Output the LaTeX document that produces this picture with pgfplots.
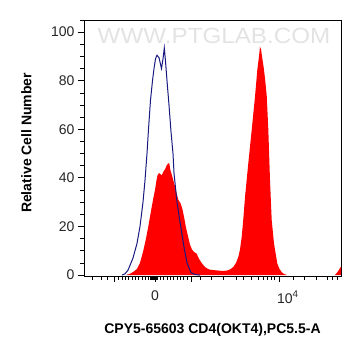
\documentclass[border=0pt]{standalone}
\usepackage{pgfplots}
\pgfplotsset{compat=1.18}
\usepackage{fontspec}
\setmainfont{Liberation Sans}
\definecolor{navyline}{RGB}{25,25,130}
\definecolor{histred}{RGB}{255,0,0}
\begin{document}
\begin{tikzpicture}
\useasboundingbox (-84pt,-80pt) rectangle (277pt,276pt);
\begin{axis}[
  scale only axis, width=257pt, height=256pt,
  xmin=84, xmax=341, ymin=-0.4, ymax=105,
  axis line style={line width=0.9pt},
  tick align=outside, xtick pos=bottom, ytick pos=left,
  ytick={0,20,40,60,80,100},
  minor ytick={5,10,15,25,30,35,45,50,55,65,70,75,85,90,95,105},
  xtick={115,155,191,279},
  xticklabels={,0,,\makebox[0pt][l]{\hspace{-2pt}10\textsuperscript{\raisebox{1pt}{4}}}},
  minor xtick={92,101,107,118,122,125,128,132,135,138,142,145,148,150,151,152,153,154,156,157,160,163,167,170,173,177,180,183,187,200,211,223,236,243,251,258,263,267,271,274,293,304,316,327,332,337},
  major tick length=6pt, minor tick length=3.5pt,
  every major tick/.style={line width=1pt, black},
  every minor tick/.style={line width=0.7pt, black},
  /pgf/number format/assume math mode=true,
  tick label style={font=\fontsize{14}{16}\selectfont, text=black!85},
  xticklabel style={yshift=-5pt},
  xlabel={CPY5-65603 CD4(OKT4),PC5.5-A},
  ylabel={Relative Cell Number},
  label style={font=\bfseries\fontsize{14}{16}\selectfont},
  xlabel style={at={(axis description cs:0.5,-0.223)}, anchor=base},
  ylabel style={at={(axis description cs:-0.19,0.52)}, anchor=south},
  clip=true,
]
\node[text=gray!22, font=\fontsize{22}{24}\selectfont, xscale=1.1] at (axis cs:214,98.6) {WWW.PTGLAB.COM};
\addplot[fill=histred, draw=none] coordinates {
(126,0)(130,0.5)(134,1.5)(137,2.5)(140,5)(143.3,10)(146,15)(148.3,20)(150,24)(151.7,28)(153.5,32)(155,35)(156.5,39)(157.5,41)(159,42)(160.5,41.5)(161.7,41)(163.3,42.5)(165,43.5)(166.5,45)(168.3,46)(169.3,46)(170.5,43)(172,41)(173.3,39)(175,36.5)(176.7,33.6)(178.3,31)(180.7,29.4)(182.5,27)(184,24)(186,19.5)(188,16)(190,12.5)(192,10.5)(194,9.5)(196.7,8.8)(198,7.5)(200,6)(202.5,4.5)(205,3.3)(208,2.5)(210,2.2)(216.7,1.9)(222,1.7)(226.7,1.8)(230,2.3)(233.3,3.3)(236,5)(238.3,7.4)(240,10.5)(241.7,15.7)(243.3,23)(245,32)(248.3,46)(251.7,59.7)(255,73.4)(257.3,84.4)(259,90)(260,94)(261,93)(262,90)(263.5,86)(265,81)(266.7,74)(268.3,60)(270,39)(271.7,22.6)(274,13)(277.3,4.7)(279.5,2.5)(281.7,1.2)(284,0.4)(287,0)
} \closedcycle;
\addplot[fill=histred, draw=none] coordinates {
(335,0)(338,1.5)(341,3.5)(341,0)
} \closedcycle;
\addplot[navyline, line width=1pt] coordinates {
(122,0)(125,0.5)(128,2)(133,7)(137,13)(140,20)(143,30)(145,39)(147,50)(148.5,60)(150.5,72)(152.5,80)(154,85)(155.5,89)(157,90.5)(159,89.5)(161.5,85)(163,89)(164.3,93.5)(165.5,88)(167,80)(169,70)(171,59)(173,50)(174,42)(177,30)(180.7,20)(184,11.5)(187,5)(191,1)(195,0.2)(200,0)
};
\end{axis}
\end{tikzpicture}
\end{document}
